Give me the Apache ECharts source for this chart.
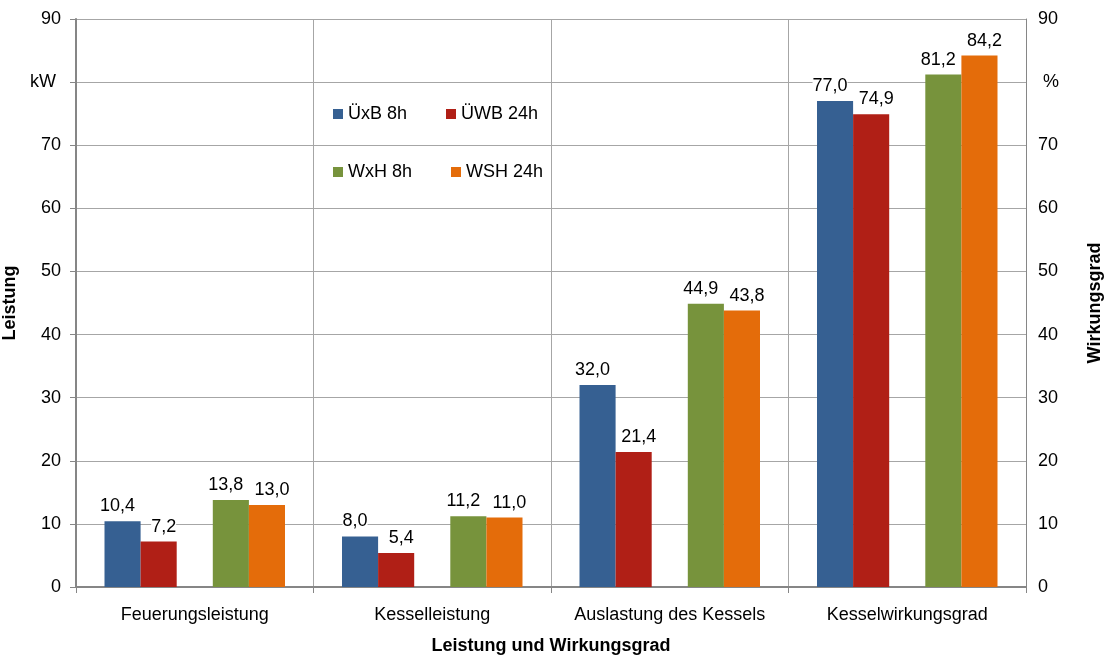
<!DOCTYPE html>
<html>
<head>
<meta charset="utf-8">
<script src="https://cdn.jsdelivr.net/npm/echarts@6/dist/echarts.min.js"></script>
<style>
  html, body { margin: 0; padding: 0; background: #fff; }
  #main { width: 1105px; height: 657px; }
</style>
</head>
<body>
<div id="main"></div>
<script>
var categories = ['Feuerungsleistung', 'Kesselleistung', 'Auslastung des Kessels', 'Kesselwirkungsgrad'];
var seriesNames = ['ÜxB 8h', 'ÜWB 24h', 'WxH 8h', 'WSH 24h'];
var uxb8 = [10.4, 8.0, 32.0, 77.0];
var uwb24 = [7.2, 5.4, 21.4, 74.9];
var wxh8 = [13.8, 11.2, 44.9, 81.2];
var wsh24 = [13.0, 11.0, 43.8, 84.2];
var colors = ['#366092', '#B01F16', '#77933C', '#E46C0A'];

var font = 'Liberation Sans, Arial, sans-serif';

function barSeries(name, data, color, shift) {
    return {
        name: name,
        type: 'bar',
        data: data,
        barGap: '0%',
        barCategoryGap: '24%',
        itemStyle: { color: color },
        label: {
            show: true,
            position: 'top',
            distance: 5,
            offset: [shift, 0],
            color: '#000',
            fontSize: 18,
            fontFamily: font,
            backgroundColor: '#fff',
            padding: [1, 0],
            formatter: function (p) {
                return p.value.toFixed(1).replace('.', ',');
            }
        }
    };
}

var series = [
    barSeries(seriesNames[0], uxb8, colors[0], -5),
    barSeries(seriesNames[1], uwb24, colors[1], 5),
    // leere Lücke zwischen den Gruppen
    { name: 'gap', type: 'bar', data: [null, null, null, null], barGap: '0%', barCategoryGap: '24%' },
    barSeries(seriesNames[2], wxh8, colors[2], -5),
    barSeries(seriesNames[3], wsh24, colors[3], 5)
];

var legendText = { fontSize: 18, fontFamily: font, color: '#000' };
var nameStyle = { fontSize: 18, fontWeight: 'bold', fontFamily: font, color: '#000' };

var option = {
    animation: false,
    backgroundColor: '#fff',
    color: colors,
    grid: { left: 76, right: 79, top: 19, bottom: 70, outerBoundsMode: 'none' },
    legend: [{
        data: [seriesNames[0], seriesNames[1]],
        left: 328, top: 100,
        itemWidth: 10, itemHeight: 10,
        itemGap: 39,
        icon: 'rect',
        textStyle: legendText
    }, {
        data: [seriesNames[2], seriesNames[3]],
        left: 328, top: 158,
        itemWidth: 10, itemHeight: 10,
        itemGap: 39,
        icon: 'rect',
        textStyle: legendText
    }],
    xAxis: {
        type: 'category',
        data: categories,
        name: 'Leistung und Wirkungsgrad',
        nameLocation: 'middle',
        nameGap: 50,
        nameTextStyle: nameStyle,
        axisLine: { lineStyle: { color: '#868686', width: 2 } },
        axisTick: { show: true, length: 6, lineStyle: { color: '#868686' } },
        axisLabel: { interval: 0, margin: 19, fontSize: 18, fontFamily: font, color: '#000' },
        splitLine: { show: true, interval: 0, lineStyle: { color: '#a6a6a6', width: 1 } }
    },
    yAxis: [{
        type: 'value',
        min: 0, max: 90, interval: 10,
        name: 'Leistung',
        nameLocation: 'middle',
        nameGap: 49,
        nameTextStyle: nameStyle,
        axisLine: { show: true, lineStyle: { color: '#868686', width: 2 } },
        axisTick: { show: true, length: 6, lineStyle: { color: '#868686' } },
        axisLabel: {
            margin: 15, fontSize: 18, fontFamily: font, color: '#000',
            formatter: function (v) { return v === 80 ? 'kW ' : v; }
        },
        splitLine: { show: true, lineStyle: { color: '#a6a6a6', width: 1 } }
    }, {
        type: 'value',
        min: 0, max: 90, interval: 10,
        name: 'Wirkungsgrad',
        nameLocation: 'middle',
        nameGap: 60,
        nameRotate: 90,
        nameTextStyle: nameStyle,
        axisLine: { show: true, lineStyle: { color: '#868686', width: 1 } },
        axisTick: { show: false },
        axisLabel: {
            margin: 12, fontSize: 18, fontFamily: font, color: '#000',
            formatter: function (v) { return v === 80 ? ' %' : v; }
        },
        splitLine: { show: false }
    }],
    series: series
};

var myChart = echarts.init(document.getElementById('main'));
myChart.setOption(option);
</script>
</body>
</html>
